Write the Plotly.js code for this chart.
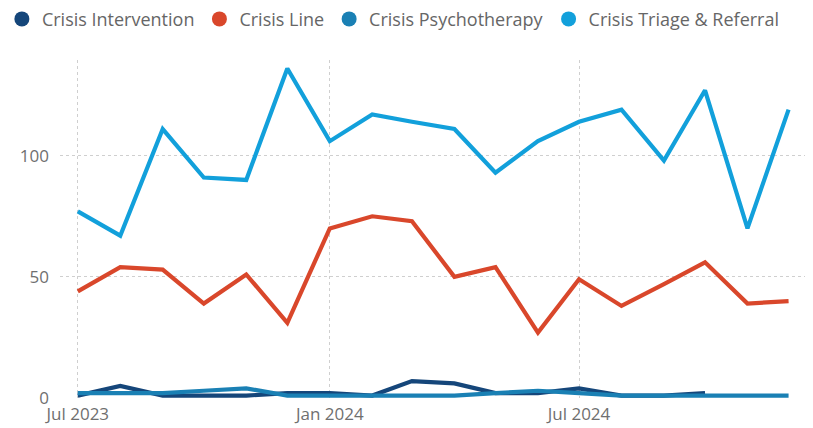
<!DOCTYPE html>
<html>
<head>
<meta charset="utf-8">
<script src="https://cdn.plot.ly/plotly-3.0.1.min.js"></script>
<style>html,body{margin:0;padding:0;background:#fff;}#chart{width:813px;height:428px;}</style>
</head>
<body>
<div id="chart"></div>
<script>
const months = ["2023-07-01","2023-08-01","2023-09-01","2023-10-01","2023-11-01","2023-12-01",
  "2024-01-01","2024-02-01","2024-03-01","2024-04-01","2024-05-01","2024-06-01",
  "2024-07-01","2024-08-01","2024-09-01","2024-10-01","2024-11-01","2024-12-01"];
const crisisIntervention = [1,5,1,1,1,2,2,1,7,6,2,2,4,1,1,2,null,null];
const crisisLine = [44,54,53,39,51,31,70,75,73,50,54,27,49,38,47,56,39,40];
const crisisPsychotherapy = [2,2,2,3,4,1,1,1,1,1,2,3,2,1,1,1,1,1];
const crisisTriage = [77,67,111,91,90,136,106,117,114,111,93,106,114,119,98,127,70,119];
const seriesNames = ["Crisis Intervention","Crisis Line","Crisis Psychotherapy","Crisis Triage & Referral"];
const seriesColors = ["#15467A","#D9472B","#1A80B4","#12A0DB"];
const xTickVals = ["2023-07-01","2024-01-01","2024-07-01"];
const xTickText = ["Jul 2023","Jan 2024","Jul 2024"];
const yTickVals = [0,50,100];

const seriesData = [crisisIntervention, crisisLine, crisisPsychotherapy, crisisTriage];
const traces = [];
seriesData.forEach((vals, i) => {
  traces.push({
    type: "scatter", mode: "lines", x: months, y: vals, name: seriesNames[i],
    line: {color: seriesColors[i], width: 4.2, shape: "linear"},
    showlegend: false, connectgaps: false, hoverinfo: "x+y+name"
  });
});
seriesNames.forEach((n, i) => {
  traces.push({
    type: "scatter", mode: "markers", x: [null], y: [null], name: n,
    marker: {color: seriesColors[i], size: 15, symbol: "circle"},
    showlegend: true
  });
});

const layout = {
  width: 813, height: 428,
  margin: {l: 60, r: 8, t: 60, b: 29.5, pad: 0, autoexpand: false},
  paper_bgcolor: "#fff", plot_bgcolor: "#fff",
  font: {family: "'Open Sans', 'Noto Sans', sans-serif", color: "#6f6f6f"},
  showlegend: true,
  legend: {
    orientation: "h", x: -0.078, xanchor: "left", xref: "paper",
    y: 1.066, yref: "paper", yanchor: "bottom",
    font: {size: 18, color: "#666"}, itemwidth: 30, tracegroupgap: 0,
    bgcolor: "rgba(0,0,0,0)", borderwidth: 0
  },
  xaxis: {
    type: "date", range: ["2023-06-18", "2024-12-13"],
    tickmode: "array", tickvals: xTickVals, ticktext: xTickText,
    showgrid: true, gridcolor: "#cfcfcf", griddash: "dot", gridwidth: 1,
    zeroline: false, showline: false, ticks: "", ticklabelstandoff: 4,
    tickfont: {size: 17, color: "#6f6f6f"}
  },
  yaxis: {
    range: [0, 139.5], tickmode: "array", tickvals: yTickVals,
    showgrid: true, gridcolor: "#cfcfcf", griddash: "dot", gridwidth: 1,
    zeroline: false, showline: false, ticks: "", ticklabelstandoff: 10,
    tickfont: {size: 17, color: "#6f6f6f"}
  }
};
Plotly.newPlot("chart", traces, layout, {displayModeBar: false, staticPlot: true});
</script>
</body>
</html>
